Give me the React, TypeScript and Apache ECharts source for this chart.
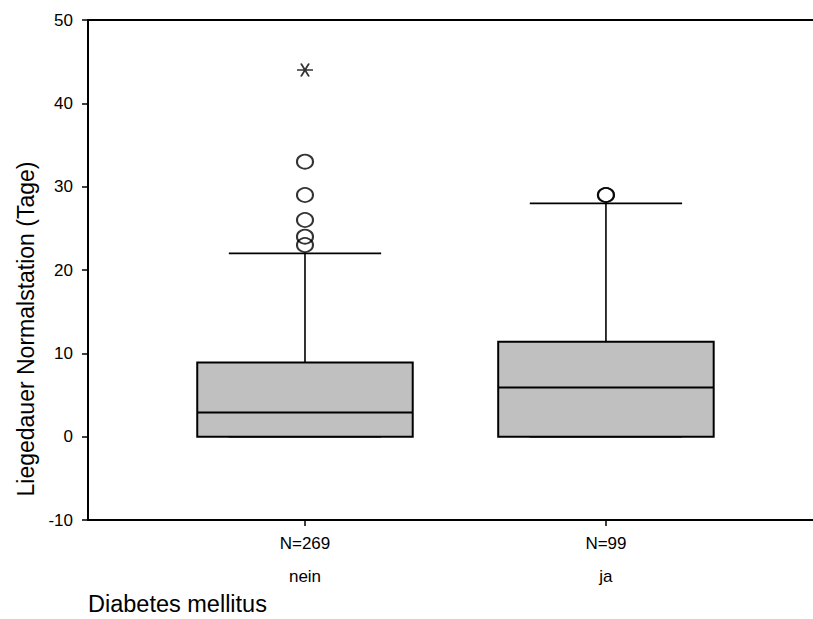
import React, { useEffect, useRef } from "react";
import * as echarts from "echarts";

const categories = ["nein", "ja"];
const counts = [269, 99];
// [min, Q1, median, Q3, max]
const boxValues = [
  [0, 0, 2.9, 8.9, 22],
  [0, 0, 5.9, 11.4, 28],
];
const outlierValues = [
  [33, 29, 26, 24, 23],
  [29, 29],
];
const extremeValues = [[44], []];
const yTicks = { min: -10, max: 50, interval: 10 };

const FONT = "'Liberation Sans', Arial, sans-serif";

export default function App() {
  const ref = useRef<HTMLDivElement>(null);
  useEffect(() => {
    if (!ref.current) return;
    const chart = echarts.init(ref.current, null, { renderer: "svg" });
    const xs = categories.map((_, i) => i + 1);
    const boxData = boxValues.map((b, i) => [xs[i], ...b]);
    const outData: number[][] = [];
    outlierValues.forEach((arr, i) => arr.forEach((v) => outData.push([xs[i], v])));
    const extData: number[][] = [];
    extremeValues.forEach((arr, i) => arr.forEach((v) => extData.push([xs[i], v])));
    const xMin = 0.279;
    const xMax = 2.688;
    const boxHalf = 0.358;
    const capHalf = 0.253;

    chart.setOption({
      animation: false,
      backgroundColor: "#fff",
      textStyle: { fontFamily: FONT, color: "#000" },
      grid: { left: 88, right: 0, top: 20, bottom: 99 },
      xAxis: [
        {
          type: "value",
          min: xMin,
          max: xMax,
          position: "bottom",
          splitLine: { show: false },
          axisLine: { show: true, onZero: false, lineStyle: { color: "#000", width: 2 } },
          axisTick: { show: true, customValues: xs, length: 6, lineStyle: { color: "#000", width: 1.5 } },
          axisLabel: {
            customValues: xs,
            margin: 7,
            fontFamily: FONT,
            fontSize: 17,
            color: "#000",
            lineHeight: 33,
            formatter: (v: number) => {
              const i = Math.round(v) - 1;
              if (i < 0 || i >= categories.length) return "";
              return `N=${counts[i]}\n${categories[i]}`;
            },
          },
        },
        {
          type: "value",
          min: xMin,
          max: xMax,
          position: "top",
          splitLine: { show: false },
          axisLine: { show: true, onZero: false, lineStyle: { color: "#000", width: 2 } },
          axisTick: { show: false },
          axisLabel: { show: false },
        },
      ],
      yAxis: {
        type: "value",
        min: yTicks.min,
        max: yTicks.max,
        interval: yTicks.interval,
        splitLine: { show: false },
        axisLine: { show: true, onZero: false, lineStyle: { color: "#000", width: 2 } },
        axisTick: { show: true, length: 6, lineStyle: { color: "#000", width: 1.5 } },
        axisLabel: { margin: 15, fontFamily: FONT, fontSize: 17, color: "#000" },
      },
      graphic: [
        {
          type: "text",
          x: 26,
          y: 329,
          rotation: Math.PI / 2,
          style: {
            text: "Liegedauer Normalstation (Tage)",
            fontFamily: FONT,
            fontSize: 23,
            fill: "#000",
            align: "center",
            verticalAlign: "middle",
          },
        },
        {
          type: "text",
          x: 88,
          y: 604,
          style: {
            text: "Diabetes mellitus",
            fontFamily: FONT,
            fontSize: 23.5,
            fill: "#000",
            align: "left",
            verticalAlign: "middle",
          },
        },
      ],
      series: [
        {
          type: "custom",
          xAxisIndex: 0,
          data: boxData,
          encode: { x: 0, y: [1, 2, 3, 4, 5] },
          renderItem: (params: any, api: any) => {
            const x = api.value(0);
            const mn = api.value(1);
            const q1 = api.value(2);
            const md = api.value(3);
            const q3 = api.value(4);
            const mx = api.value(5);
            const pMin = api.coord([x, mn]);
            const pQ1 = api.coord([x, q1]);
            const pMd = api.coord([x, md]);
            const pQ3 = api.coord([x, q3]);
            const pMax = api.coord([x, mx]);
            const bl = api.coord([x - boxHalf, 0])[0];
            const br = api.coord([x + boxHalf, 0])[0];
            const cl = api.coord([x - capHalf, 0])[0];
            const cr = api.coord([x + capHalf, 0])[0];
            const thin = { stroke: "#000", lineWidth: 1.6 };
            return {
              type: "group",
              children: [
                { type: "line", shape: { x1: pQ3[0], y1: pQ3[1], x2: pMax[0], y2: pMax[1] }, style: thin },
                { type: "line", shape: { x1: pQ1[0], y1: pQ1[1], x2: pMin[0], y2: pMin[1] }, style: thin },
                { type: "line", shape: { x1: cl, y1: pMax[1], x2: cr, y2: pMax[1] }, style: thin },
                { type: "line", shape: { x1: cl, y1: pMin[1], x2: cr, y2: pMin[1] }, style: thin },
                {
                  type: "rect",
                  shape: { x: bl, y: pQ3[1], width: br - bl, height: pQ1[1] - pQ3[1] },
                  style: { fill: "#c0c0c0", stroke: "#000", lineWidth: 2 },
                },
                { type: "line", shape: { x1: bl, y1: pMd[1], x2: br, y2: pMd[1] }, style: { stroke: "#000", lineWidth: 2 } },
              ],
            };
          },
        },
        {
          type: "scatter",
          data: outData,
          symbol: "circle",
          symbolSize: [16, 14],
          itemStyle: { color: "rgba(0,0,0,0)", borderColor: "#000", borderWidth: 2 },
          z: 5,
        },
        {
          type: "scatter",
          data: extData,
          symbol: "path://M0,5 L10,5 M2.5,0.67 L7.5,9.33 M7.5,0.67 L2.5,9.33",
          symbolSize: [16, 13],
          itemStyle: { color: "rgba(0,0,0,0)", borderColor: "#000", borderWidth: 1.8 },
          z: 5,
        },
      ],
    });
    return () => chart.dispose();
  }, []);
  return (
    <div
      ref={ref}
      style={{ position: "fixed", left: 0, top: 0, width: 813, height: 619, background: "#fff" }}
    />
  );
}
